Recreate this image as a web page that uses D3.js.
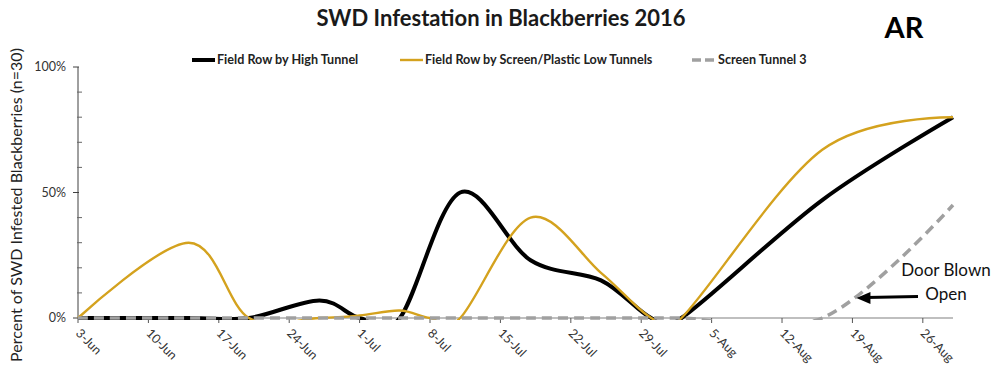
<!DOCTYPE html>
<html>
<head>
<meta charset="utf-8">
<script src="https://cdn.jsdelivr.net/npm/d3@7/dist/d3.min.js"></script>
<style>
  html, body { margin: 0; padding: 0; background: #fff; }
  svg { display: block; }
  text { font-family: Lato, "Open Sans", sans-serif; }
</style>
</head>
<body>
<svg id="chart" width="1000" height="373"></svg>
<script>
// ---- data ----
const sampleDates = ["2016-06-03","2016-06-14","2016-06-20","2016-06-27","2016-07-01","2016-07-05","2016-07-08","2016-07-11","2016-07-18","2016-07-25","2016-07-30","2016-08-02","2016-08-16","2016-08-29"];
const fieldHighTunnel = [0, 0, 0, 7, 0, 0, null, 50, 23, 15, 0, 0, 47, 80];
const fieldLowTunnels = [0, 30, 0, 0, 1, 3, 0, 0, 40, 18, 0, 0, 67, 80];
const screenTunnel3   = [0, 0, 0, 0, 0, 0, 0, 0, 0, 0, 0, 0, 0, 45];
const seriesNames = ["Field Row by High Tunnel", "Field Row by Screen/Plastic Low Tunnels", "Screen Tunnel 3"];
const xTickDates = ["2016-06-03","2016-06-10","2016-06-17","2016-06-24","2016-07-01","2016-07-08","2016-07-15","2016-07-22","2016-07-29","2016-08-05","2016-08-12","2016-08-19","2016-08-26"];
const yMajorTicks = [0, 50, 100];
const yMinorTicks = [10, 20, 30, 40, 60, 70, 80, 90];
const xDomain = ["2016-06-03", "2016-08-29"];
const titleText = "SWD Infestation in Blackberries 2016";
const stateLabel = "AR";
const yLabel = "Percent of SWD Infested Blackberries (n=30)";
const annotation = { lines: ["Door Blown", "Open"], date: "2016-08-19", value: 8 };

// ---- setup ----
const parse = d3.timeParse("%Y-%m-%d");
const svg = d3.select("#chart");
const m = { left: 78, right: 953, top: 67, bottom: 318 };

const x = d3.scaleTime().domain(xDomain.map(parse)).range([m.left, m.right]);
const y = d3.scaleLinear().domain([0, 100]).range([m.bottom, m.top]);

const colors = ["#000000", "#d4a21e", "#a0a0a0"];
const widths = [4, 2.4, 3.5];
const dashes = [null, null, "10,6"];
const allSeries = [fieldHighTunnel, fieldLowTunnels, screenTunnel3];

// title
svg.append("text").attr("x", 501).attr("y", 26).attr("text-anchor", "middle")
  .attr("font-size", 22).attr("font-weight", "bold").attr("fill", "#1a1a1a").text(titleText);
svg.append("text").attr("x", 904).attr("y", 38).attr("text-anchor", "middle")
  .attr("font-size", 29).attr("font-weight", "bold").attr("fill", "#000").text(stateLabel);

// y axis label
svg.append("text").attr("transform", "translate(22,205) rotate(-90)").attr("text-anchor", "middle")
  .attr("font-size", 16).attr("fill", "#222").text(yLabel);

// legend
const legendX = [192, 400, 692];
const legendW = [23, 23, 24];
seriesNames.forEach((name, i) => {
  const g = svg.append("g").attr("transform", `translate(${legendX[i]},60)`);
  g.append("line").attr("x1", 0).attr("x2", legendW[i]).attr("y1", 0).attr("y2", 0)
    .attr("stroke", colors[i]).attr("stroke-width", widths[i])
    .attr("stroke-dasharray", i === 2 ? "9,4" : null);
  g.append("text").attr("x", legendW[i] + 2).attr("y", 4).attr("font-size", 12.6)
    .attr("font-weight", "bold").attr("fill", "#222").text(name);
});

// y axis
const yAxisG = svg.append("g");
yAxisG.append("line").attr("x1", m.left).attr("x2", m.left).attr("y1", m.top).attr("y2", m.bottom)
  .attr("stroke", "#404040").attr("stroke-width", 1);
yMajorTicks.forEach(t => {
  yAxisG.append("line").attr("x1", m.left - 5).attr("x2", m.left + 1).attr("y1", y(t)).attr("y2", y(t))
    .attr("stroke", "#404040");
  yAxisG.append("text").attr("x", m.left - 12).attr("y", y(t) + 4).attr("text-anchor", "end")
    .attr("font-size", 12.5).attr("fill", "#333").text(t + "%");
});
yMinorTicks.forEach(t => {
  yAxisG.append("line").attr("x1", m.left - 1).attr("x2", m.left + 4).attr("y1", y(t)).attr("y2", y(t))
    .attr("stroke", "#666");
});

// x axis
const xAxisG = svg.append("g");
xAxisG.append("line").attr("x1", m.left).attr("x2", m.right).attr("y1", y(0)).attr("y2", y(0))
  .attr("stroke", "#808080").attr("stroke-width", 1.2);
const fmt = d3.timeFormat("%-d-%b");
xTickDates.map(parse).forEach(d => {
  xAxisG.append("line").attr("x1", x(d)).attr("x2", x(d)).attr("y1", y(0)).attr("y2", y(0) + 5)
    .attr("stroke", "#555");
  xAxisG.append("text").attr("transform", `translate(${x(d) - 3},${y(0) + 16}) rotate(45)`)
    .attr("text-anchor", "start").attr("font-size", 12.5).attr("fill", "#333").text(fmt(d));
});

// clip
svg.append("clipPath").attr("id", "plotclip").append("rect")
  .attr("x", m.left - 2).attr("y", 0).attr("width", m.right - m.left + 10).attr("height", y(0) + 2);

const line = d3.line().x(d => x(d[0])).y(d => y(d[1])).curve(d3.curveCardinal.tension(0));
const plot = svg.append("g").attr("clip-path", "url(#plotclip)");
allSeries.forEach((vals, i) => {
  const pts = sampleDates.map((s, j) => [parse(s), vals[j]]).filter(p => p[1] !== null);
  plot.append("path").attr("d", line(pts)).attr("fill", "none")
    .attr("stroke", colors[i]).attr("stroke-width", widths[i])
    .attr("stroke-dasharray", dashes[i]).attr("stroke-linejoin", "round");
});

// annotation
const ax = x(parse(annotation.date)) + 4, ay = y(annotation.value);
svg.append("text").attr("x", 946).attr("y", 276).attr("text-anchor", "middle")
  .attr("font-size", 17).attr("fill", "#111").text(annotation.lines[0]);
svg.append("text").attr("x", 946).attr("y", 300).attr("text-anchor", "middle")
  .attr("font-size", 17).attr("fill", "#111").text(annotation.lines[1]);
svg.append("line").attr("x1", 918).attr("y1", 296.5).attr("x2", ax + 10).attr("y2", ay - 0.5)
  .attr("stroke", "#000").attr("stroke-width", 3);
svg.append("path")
  .attr("d", `M${ax},${ay} L${ax + 14},${ay - 6} L${ax + 14},${ay + 6} Z`)
  .attr("fill", "#000");
</script>
</body>
</html>
